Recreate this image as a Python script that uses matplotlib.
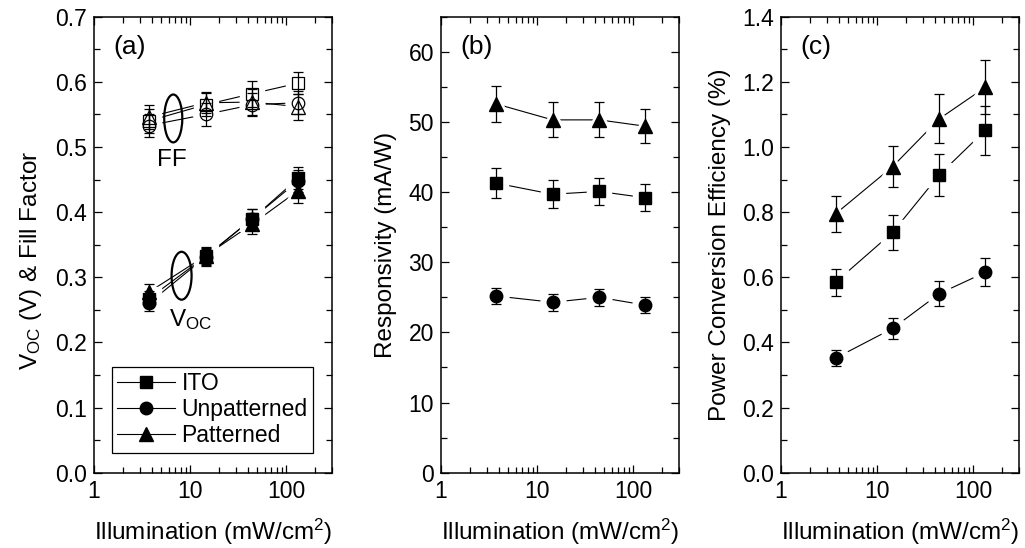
import matplotlib
matplotlib.use("Agg")
import matplotlib.pyplot as plt
from matplotlib.patches import Ellipse
from matplotlib.lines import Line2D
from matplotlib.ticker import MultipleLocator, LogLocator, NullFormatter, FixedLocator, FixedFormatter

plt.rcParams['font.family'] = ['Liberation Sans', 'DejaVu Sans']
plt.rcParams['mathtext.fontset'] = 'custom'
plt.rcParams['mathtext.rm'] = 'Liberation Sans'
plt.rcParams['mathtext.it'] = 'Liberation Sans'

# Illumination intensities (mW/cm^2)
illum = [3.7, 14.5, 44.5, 133]

# (a) open-circuit voltage (V)
voc_ito = [0.267, 0.332, 0.390, 0.452]
voc_unp = [0.260, 0.331, 0.390, 0.448]
voc_pat = [0.277, 0.333, 0.382, 0.433]
voc_ito_err = [0.012, 0.013, 0.015, 0.017]
voc_unp_err = [0.012, 0.013, 0.015, 0.017]
voc_pat_err = [0.012, 0.013, 0.016, 0.019]

# (a) fill factor
ff_ito = [0.540, 0.565, 0.582, 0.598]
ff_unp = [0.533, 0.550, 0.565, 0.568]
ff_pat = [0.546, 0.568, 0.569, 0.562]
ff_ito_err = [0.018, 0.018, 0.020, 0.017]
ff_unp_err = [0.018, 0.018, 0.018, 0.018]
ff_pat_err = [0.018, 0.016, 0.020, 0.020]

# (b) responsivity (mA/W)
resp_ito = [41.3, 39.7, 40.1, 39.2]
resp_unp = [25.2, 24.3, 25.0, 23.9]
resp_pat = [52.6, 50.3, 50.3, 49.4]
resp_ito_err = [2.1, 2.0, 1.9, 1.9]
resp_unp_err = [1.2, 1.2, 1.2, 1.1]
resp_pat_err = [2.6, 2.5, 2.5, 2.4]

# (c) power conversion efficiency (%)
pce_ito = [0.585, 0.738, 0.915, 1.051]
pce_unp = [0.352, 0.443, 0.550, 0.615]
pce_pat = [0.795, 0.940, 1.087, 1.183]
pce_ito_err = [0.041, 0.053, 0.065, 0.074]
pce_unp_err = [0.025, 0.031, 0.039, 0.043]
pce_pat_err = [0.055, 0.064, 0.076, 0.083]

labels = ["ITO", "Unpatterned", "Patterned"]
markers = ["s", "o", "^"]
msizes = [8.5, 9.0, 9.5]

TICK_FS = 16.5
LABEL_FS = 17.5

fig = plt.figure(figsize=(10.25, 5.48), dpi=100)
axw, axh, axb = 0.2322, 0.832, 0.1374
lefts = [0.0917, 0.4302, 0.762]
axes = [fig.add_axes([l, axb, axw, axh]) for l in lefts]


def draw_series(ax, ys, errs, filled=True):
    """Lines with gaps at the markers, then error bars, then markers."""
    for y in ys:
        ax.plot(illum, y, '-', color='black', lw=0.8, zorder=2)
    for y, m, ms in zip(ys, markers, msizes):
        ax.plot(illum, y, linestyle='none', marker=m, ms=ms + 9,
                mfc='white', mec='white', zorder=3)
    for y, e in zip(ys, errs):
        ax.errorbar(illum, y, yerr=e, fmt='none', ecolor='black',
                    elinewidth=0.9, capsize=3.6, capthick=0.9, zorder=4)
    for y, m, ms in zip(ys, markers, msizes):
        if filled:
            ax.plot(illum, y, linestyle='none', marker=m, ms=ms,
                    mfc='black', mec='black', zorder=5)
        else:
            ax.plot(illum, y, linestyle='none', marker=m, ms=ms,
                    mfc='none', mec='black', mew=0.9, zorder=5)


def style_axis(ax, ylim, major, minor, fmt):
    ax.set_xscale('log')
    ax.set_xlim(1, 300)
    ax.set_ylim(*ylim)
    ax.xaxis.set_major_locator(FixedLocator([1, 10, 100]))
    ax.xaxis.set_major_formatter(FixedFormatter(['1', '10', '100']))
    ax.xaxis.set_minor_locator(LogLocator(base=10, subs=range(2, 10)))
    ax.xaxis.set_minor_formatter(NullFormatter())
    ax.yaxis.set_major_locator(MultipleLocator(major))
    ax.yaxis.set_minor_locator(MultipleLocator(minor))
    ax.yaxis.set_major_formatter(plt.FuncFormatter(lambda v, p: fmt.format(v)))
    ax.tick_params(which='both', direction='in', top=True, right=True,
                   labelsize=TICK_FS, width=0.9)
    ax.tick_params(which='major', length=6, pad=5)
    ax.tick_params(which='minor', length=4)
    for s in ax.spines.values():
        s.set_linewidth(1.1)
    ax.set_xlabel('Illumination (mW/cm$^2$)', fontsize=LABEL_FS, labelpad=10)


# (a)
ax = axes[0]
draw_series(ax, [ff_ito, ff_unp, ff_pat], [ff_ito_err, ff_unp_err, ff_pat_err], filled=False)
draw_series(ax, [voc_ito, voc_unp, voc_pat], [voc_ito_err, voc_unp_err, voc_pat_err], filled=True)
style_axis(ax, (0, 0.7), 0.1, 0.05, '{:.1f}')
ax.set_ylabel('V$_{\\mathrm{OC}}$ (V) & Fill Factor', fontsize=LABEL_FS, labelpad=8)
ax.yaxis.label.set_y(0.465)
ax.add_patch(Ellipse((0.333, 0.777), 0.076, 0.105, transform=ax.transAxes,
                     fill=False, lw=1.6, ec='black', zorder=6))
ax.add_patch(Ellipse((0.368, 0.432), 0.084, 0.105, transform=ax.transAxes,
                     fill=False, lw=1.6, ec='black', zorder=6))
ax.text(0.327, 0.685, 'FF', transform=ax.transAxes, fontsize=LABEL_FS,
        ha='center', va='center')
ax.text(0.405, 0.335, 'V$_{\\mathrm{OC}}$', transform=ax.transAxes, fontsize=LABEL_FS,
        ha='center', va='center')
handles = [Line2D([], [], color='black', lw=0.8, marker=m, ms=ms, mfc='black', mec='black')
           for m, ms in zip(markers, msizes)]
leg = ax.legend(handles, labels, loc='lower left', bbox_to_anchor=(0.074, 0.044),
                borderaxespad=0, fontsize=TICK_FS, handlelength=2.5, handletextpad=0.3,
                labelspacing=0.12, borderpad=0.25, fancybox=False, framealpha=1,
                edgecolor='black', numpoints=1)
leg.get_frame().set_linewidth(0.9)
leg.set_zorder(7)
ax.text(0.08, 0.96, '(a)', transform=ax.transAxes, fontsize=LABEL_FS + 1.5,
        ha='left', va='top')

# (b)
ax = axes[1]
draw_series(ax, [resp_ito, resp_unp, resp_pat], [resp_ito_err, resp_unp_err, resp_pat_err])
style_axis(ax, (0, 65), 10, 5, '{:.0f}')
ax.set_ylabel('Responsivity (mA/W)', fontsize=LABEL_FS, labelpad=8)
ax.text(0.08, 0.96, '(b)', transform=ax.transAxes, fontsize=LABEL_FS + 1.5,
        ha='left', va='top')

# (c)
ax = axes[2]
draw_series(ax, [pce_ito, pce_unp, pce_pat], [pce_ito_err, pce_unp_err, pce_pat_err])
style_axis(ax, (0, 1.4), 0.2, 0.1, '{:.1f}')
ax.set_ylabel('Power Conversion Efficiency (%)', fontsize=LABEL_FS, labelpad=8)
ax.text(0.08, 0.96, '(c)', transform=ax.transAxes, fontsize=LABEL_FS + 1.5,
        ha='left', va='top')

fig.savefig('out.png', dpi=100)
